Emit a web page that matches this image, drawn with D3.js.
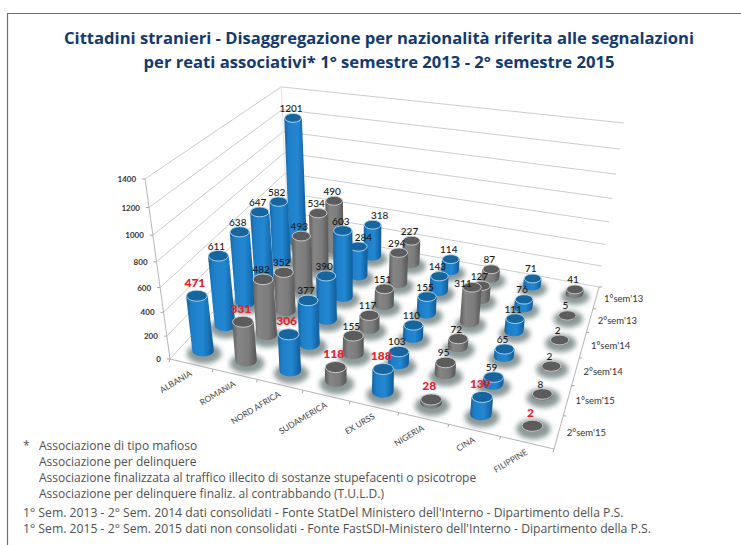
<!DOCTYPE html>
<html>
<head>
<meta charset="utf-8">
<script src="https://cdn.jsdelivr.net/npm/d3@7"></script>
<style>
  html, body { margin: 0; padding: 0; background: #fff; }
  svg { display: block; }
</style>
</head>
<body>
<div id="chart"></div>
<script>
// ── Data ─────────────────────────────────────────────────
var countries = ["ALBANIA", "ROMANIA", "NORD AFRICA", "SUDAMERICA", "EX URSS", "NIGERIA", "CINA", "FILIPPINE"];
// back row first, the way the floor runs away from the viewer
var semesters = ["1°sem'13", "2°sem'13", "1°sem'14", "2°sem'14", "1°sem'15", "2°sem'15"];
var albania    = [1201, 582, 647, 638, 611, 471];
var romania    = [490, 534, 493, 352, 482, 331];
var nordAfrica = [318, 284, 603, 390, 377, 306];
var sudamerica = [227, 294, 151, 117, 155, 118];
var exUrss     = [114, 143, 155, 110, 103, 188];
var nigeria    = [87, 127, 311, 72, 95, 28];
var cina       = [71, 76, 111, 65, 59, 139];
var filippine  = [41, 5, 2, 2, 8, 2];
var seriesValues = [albania, romania, nordAfrica, sudamerica, exUrss, nigeria, cina, filippine];
var valueTicks = [0, 200, 400, 600, 800, 1000, 1200, 1400];

var titleLines = [
  "Cittadini stranieri - Disaggregazione per nazionalità riferita alle segnalazioni",
  "per reati associativi* 1° semestre 2013 - 2° semestre 2015"
];
var noteLines = [
  "Associazione di tipo mafioso",
  "Associazione per delinquere",
  "Associazione finalizzata al traffico illecito di sostanze stupefacenti o psicotrope",
  "Associazione per delinquere finaliz. al contrabbando (T.U.L.D.)"
];
var sourceLines = [
  "1° Sem. 2013 - 2° Sem. 2014 dati consolidati - Fonte StatDel Ministero dell'Interno - Dipartimento della P.S.",
  "1° Sem. 2015 - 2° Sem. 2015 dati non consolidati - Fonte FastSDI-Ministero dell'Interno - Dipartimento della P.S."
];

var width = 741, height = 545;
var svg = d3.select("#chart").append("svg").attr("width", width).attr("height", height);
var defs = svg.append("defs");

// ── Frame, title, notes ──────────────────────────────────
svg.append("path").attr("d", "M7.5,545V13.5H741").attr("fill", "none").attr("stroke", "#6e6e6e").attr("stroke-width", 1.2);

svg.selectAll(".title").data(titleLines).join("text")
  .attr("class", "title")
  .attr("x", 379)
  .attr("y", function (d, i) { return 44 + i * 23.5; })
  .attr("text-anchor", "middle")
  .attr("font-family", "'Open Sans', sans-serif")
  .attr("font-weight", 700)
  .attr("font-size", 16.6)
  .attr("fill", "#123a70")
  .text(function (d) { return d; });

var noteFont = "'Open Sans', sans-serif";
var noteColor = "#505050";
svg.append("text").attr("x", 23).attr("y", 450).attr("font-family", noteFont).attr("font-size", 12).attr("fill", noteColor).text("*");
svg.selectAll(".note").data(noteLines).join("text")
  .attr("class", "note")
  .attr("x", 39)
  .attr("y", function (d, i) { return 450 + i * 16; })
  .attr("font-family", noteFont).attr("font-size", 12).attr("fill", noteColor)
  .text(function (d) { return d; });
svg.selectAll(".source").data(sourceLines).join("text")
  .attr("class", "source")
  .attr("x", 23)
  .attr("y", function (d, i) { return 517 + i * 16; })
  .attr("font-family", noteFont).attr("font-size", 12.2).attr("fill", noteColor)
  .text(function (d) { return d; });

// ── Projection: floor quad + perspective height ──────────
var floorFL = [170, 359], floorFR = [554, 449], floorBR = [599, 287], floorBL = [288, 230];

function makeHomography(p00, p10, p11, p01) {
  // unit square -> quad
  var x0 = p01[0], y0 = p01[1], x1 = p11[0], y1 = p11[1], x2 = p10[0], y2 = p10[1], x3 = p00[0], y3 = p00[1];
  var dx1 = x1 - x2, dx2 = x3 - x2, sx = x0 - x1 + x2 - x3;
  var dy1 = y1 - y2, dy2 = y3 - y2, sy = y0 - y1 + y2 - y3;
  var det = dx1 * dy2 - dx2 * dy1;
  var g = (sx * dy2 - dx2 * sy) / det;
  var h = (dx1 * sy - sx * dy1) / det;
  var a = x1 - x0 + g * x1, b = x3 - x0 + h * x3;
  var d = y1 - y0 + g * y1, e = y3 - y0 + h * y3;
  return function (s, t) {
    var w = g * s + h * t + 1;
    return [(a * s + b * t + x0) / w, (d * s + e * t + y0) / w];
  };
}
// s along the front, t from front (0) to back (1)
var floorAt = makeHomography(floorBL, floorBR, floorFR, floorFL);
function project(u, v) { return floorAt(u, 1 - v); }

var uScale = d3.scaleBand().domain(countries).range([0, 1]);
var vScale = d3.scaleBand().domain(semesters).range([0, 1]);

var kBack = d3.scaleLinear().domain([0, 1]).range([0.089, 0.102]);
var kFront = d3.scaleLinear().domain([0, 1]).range([0.112, 0.128]);

function lift(u, v, value) {
  var base = project(u, v);
  var k = kBack(u) + (kFront(u) - kBack(u)) * v;
  var h = k * value * (1 + 1.06e-4 * value);
  var dx = base[0] - 350;
  return [base[0] + h * dx / (dx < 0 ? 1300 : 1650), base[1] - h];
}

// ── Walls and floor edges ────────────────────────────────
var wall = svg.append("g").attr("fill", "none").attr("stroke", "#cdcdcd").attr("stroke-width", 1);
var wallLine = d3.line();

valueTicks.forEach(function (t) {
  if (t === 0) return;
  wall.append("path").attr("d", wallLine([lift(0, 1, t), lift(0, 0, t), lift(1, 0, t)]));
});
wall.append("path").attr("d", wallLine([lift(0, 1, 0), lift(0, 0, 0), lift(1, 0, 0)]));
wall.append("path").attr("d", wallLine([lift(0, 1, 0), lift(0, 1, 1400)])).attr("stroke", "#b5b5b5");
wall.append("path").attr("d", wallLine([lift(0, 0, 0), lift(0, 0, 1400)])).attr("stroke", "#e3e3e3");
wall.append("path").attr("d", wallLine([project(0, 1), project(1, 1), project(1, 0)])).attr("stroke", "#b5b5b5");

var tickGroup = svg.append("g").attr("stroke", "#a8a8a8").attr("fill", "none");
uScale.domain().forEach(function (c, i) {
  var p = project(i * uScale.step(), 1);
  tickGroup.append("path").attr("d", wallLine([p, [p[0] - 1, p[1] + 3]]));
});
tickGroup.append("path").attr("d", wallLine([project(1, 1), [project(1, 1)[0] - 1, project(1, 1)[1] + 3]]));
vScale.domain().forEach(function (s, i) {
  var p = project(1, i * vScale.step());
  tickGroup.append("path").attr("d", wallLine([p, [p[0] + 3, p[1]]]));
});

// y axis labels
svg.selectAll(".y-label").data(valueTicks).join("text")
  .attr("class", "y-label")
  .attr("x", function (d) { return lift(0, 1, d)[0] - 9; })
  .attr("y", function (d) { return lift(0, 1, d)[1] + 3; })
  .attr("text-anchor", "end")
  .attr("font-family", "Lato, sans-serif")
  .attr("font-weight", 700)
  .attr("font-size", 8)
  .attr("fill", "#333")
  .text(function (d) { return d; });
svg.append("g").attr("stroke", "#a8a8a8").selectAll("line").data(valueTicks).join("line")
  .attr("x1", function (d) { return lift(0, 1, d)[0] - 3; })
  .attr("x2", function (d) { return lift(0, 1, d)[0]; })
  .attr("y1", function (d) { return lift(0, 1, d)[1]; })
  .attr("y2", function (d) { return lift(0, 1, d)[1]; });

// category labels on the front edge, semesters on the right edge
svg.selectAll(".cat-label").data(countries).join("text")
  .attr("class", "cat-label")
  .attr("transform", function (d) {
    var p = project(uScale(d) + uScale.bandwidth() / 2, 1);
    return "translate(" + (p[0] + 1) + "," + (p[1] + 11) + ") rotate(-31)";
  })
  .attr("text-anchor", "end")
  .attr("font-family", "Lato, sans-serif")
  .attr("font-size", 8.4)
  .attr("fill", "#444")
  .text(function (d) { return d; });
svg.selectAll(".sem-label").data(semesters).join("text")
  .attr("class", "sem-label")
  .attr("x", function (d) { return project(1, vScale(d) + vScale.bandwidth() / 2)[0] + 8; })
  .attr("y", function (d) { return project(1, vScale(d) + vScale.bandwidth() / 2)[1] + 4; })
  .attr("font-family", "Lato, sans-serif")
  .attr("font-size", 9.5)
  .attr("fill", "#333")
  .text(function (d) { return d; });

// ── Gradients and shadow ─────────────────────────────────
function addGradient(id, stops) {
  var g = defs.append("linearGradient").attr("id", id).attr("x1", 0).attr("x2", 1).attr("y1", 0).attr("y2", 0);
  stops.forEach(function (s) { g.append("stop").attr("offset", s[0]).attr("stop-color", s[1]); });
}
addGradient("bodyBlue", [[0, "#15629f"], [0.2, "#1f7fc8"], [0.6, "#2187d2"], [1, "#135a95"]]);
addGradient("bodyGrey", [[0, "#5e5e5e"], [0.25, "#858585"], [0.65, "#7c7c7c"], [1, "#565656"]]);
defs.append("filter").attr("id", "shadowBlur").attr("x", "-50%").attr("y", "-50%").attr("width", "200%").attr("height", "200%")
  .append("feGaussianBlur").attr("stdDeviation", 2.5);
defs.append("filter").attr("id", "softMark").append("feGaussianBlur").attr("stdDeviation", 0.35);

// ── Cylinders ────────────────────────────────────────────
var marks = [];
semesters.forEach(function (s, r) {
  countries.forEach(function (c, i) {
    marks.push({ country: c, semester: s, value: seriesValues[i][r], blue: i % 2 === 0, row: r });
  });
});
// back rows first so the front ones cover them
marks.sort(function (a, b) { return d3.ascending(a.row, b.row); });

var rxScale = d3.scaleLinear().domain([0, 1]).range([8.6, 11]);
var barLayer = svg.append("g").attr("filter", "url(#softMark)");

marks.forEach(function (d) {
  var u = uScale(d.country) + uScale.bandwidth() / 2;
  var v = vScale(d.semester) + vScale.bandwidth() / 2;
  var b = project(u, v);
  var t = lift(u, v, d.value);
  var rx = rxScale(v);
  var ry = rx * 0.55;
  var g = barLayer.append("g").attr("class", "bar");

  g.append("ellipse")
    .attr("cx", b[0] + 1).attr("cy", b[1] + 3)
    .attr("rx", rx * 1.6).attr("ry", ry * 1.7)
    .attr("fill", "#6f7f7f").attr("opacity", 0.8)
    .attr("filter", "url(#shadowBlur)");

  g.append("path")
    .attr("d", "M" + (t[0] - rx) + "," + t[1] + "L" + (b[0] - rx) + "," + b[1] +
      "A" + rx + "," + ry + " 0 0 0 " + (b[0] + rx) + "," + b[1] +
      "L" + (t[0] + rx) + "," + t[1] + "Z")
    .attr("fill", d.blue ? "url(#bodyBlue)" : "url(#bodyGrey)");

  g.append("ellipse")
    .attr("cx", t[0]).attr("cy", t[1])
    .attr("rx", rx - 0.4).attr("ry", ry - 0.4)
    .attr("fill", d.blue ? "#12659f" : "#5b5b5b")
    .attr("stroke", d.blue ? "#b9d8ee" : "#cfcfcf")
    .attr("stroke-width", 0.9);
});

// ── Value labels ─────────────────────────────────────────
function labelPos(d) {
  return lift(uScale(d.country) + uScale.bandwidth() / 2, vScale(d.semester) + vScale.bandwidth() / 2, d.value);
}
// a few labels sit off-centre in the original to clear their neighbours
function labelShift(d) {
  if (d.country === "NIGERIA" && d.value === 311) return [-9, 6];
  if (d.country === "NORD AFRICA" && d.value === 318) return [7, 0];
  if (d.country === "NORD AFRICA" && d.value === 284) return [5, 0];
  return [-2, 0];
}
svg.selectAll(".value-label").data(marks).join("text")
  .attr("class", "value-label")
  .attr("x", function (d) { return labelPos(d)[0] + labelShift(d)[0]; })
  .attr("y", function (d) { return labelPos(d)[1] + labelShift(d)[1] - (d.row === 5 ? 9 : 6); })
  .attr("text-anchor", "middle")
  .attr("font-family", "Lato, sans-serif")
  .attr("font-weight", function (d) { return d.row === 5 ? 900 : 500; })
  .attr("font-size", function (d) { return d.row === 5 ? 12 : 10; })
  .attr("fill", function (d) { return d.row === 5 ? "#e5212d" : "#1a1a1a"; })
  .text(function (d) { return d.value; });
</script>
</body>
</html>
